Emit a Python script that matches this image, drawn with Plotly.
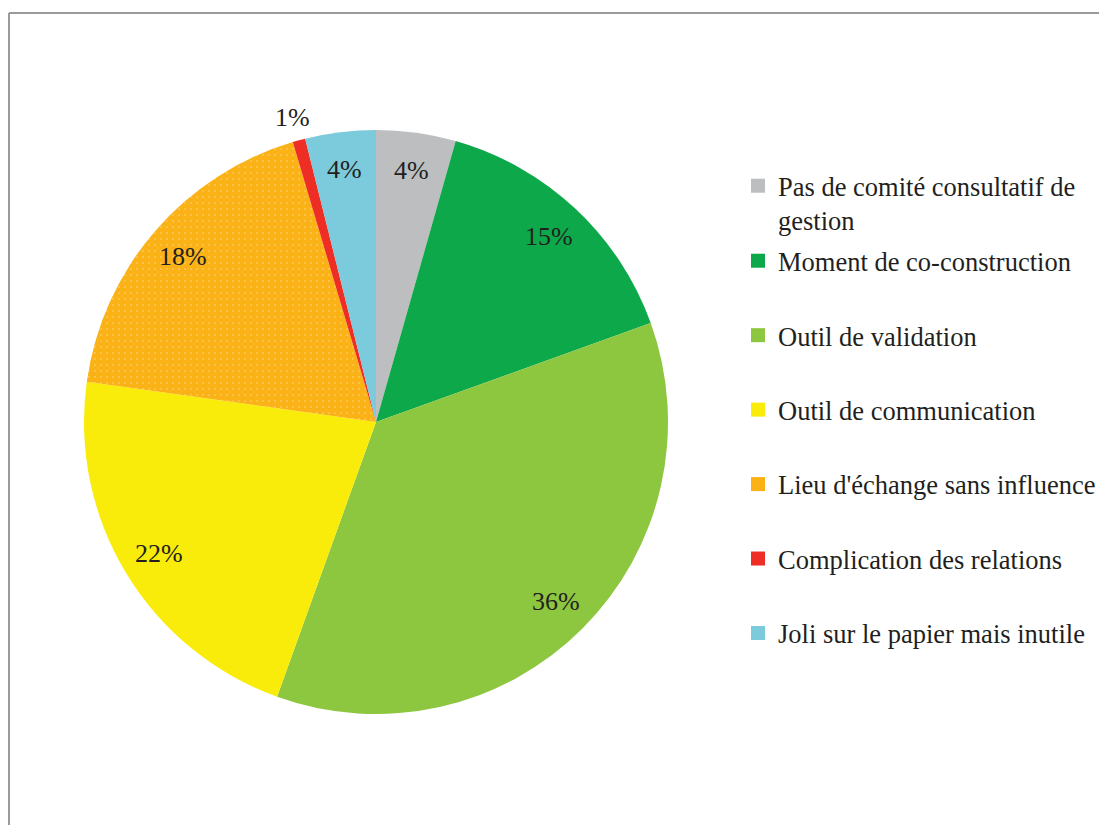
import math
import plotly.graph_objects as go

# ---- data ----
categories = [
    "Pas de comité consultatif de<br>gestion",
    "Moment de co-construction",
    "Outil de validation",
    "Outil de communication",
    "Lieu d'échange sans influence",
    "Complication des relations",
    "Joli sur le papier mais inutile",
]
values = [4.4, 15.1, 36.0, 21.7, 18.2, 0.7, 3.9]
colors = ["#BCBEC0", "#0DA84A", "#8DC63F", "#F9EC0A", "#FBB217", "#EE2E24", "#7BCBDC"]
patterns = ["", "", "", "", ".", "", ""]

# ---- layout constants ----
W, H = 1107, 825
OFF = 8                               # page body margin
CX, CY, R = 376 - OFF, 422 - OFF, 292  # pie centre / radius in figure pixels
label_r_inside = 0.87
label_r_outside = 1.08
small_slice = 1.5                     # slices below this % get the label outside
FONT = "Liberation Serif"
TXT = "#231F20"

fig = go.Figure()

fig.add_trace(go.Pie(
    labels=categories,
    values=values,
    sort=False,
    direction="clockwise",
    rotation=0,
    textinfo="none",
    hoverinfo="label+percent",
    showlegend=False,
    marker=dict(colors=colors, line=dict(width=0),
                pattern=dict(shape=patterns, fgcolor="white", bgcolor=colors,
                             fgopacity=0.45, size=6, solidity=0.06,
                             fillmode="replace")),
    domain=dict(x=[(CX - R) / W, (CX + R) / W],
                y=[(H - CY - R) / H, (H - CY + R) / H]),
))

# percent labels placed at slice mid-angles
total = sum(values)
cum = 0.0
for v in values:
    mid = (cum + v / 2) / total * 2 * math.pi
    cum += v
    rf = label_r_outside if v / total * 100 < small_slice else label_r_inside
    px = CX + rf * R * math.sin(mid)
    py = CY - rf * R * math.cos(mid)
    fig.add_annotation(x=px / W, y=1 - py / H, xref="paper", yref="paper",
                       text=f"{round(v / total * 100)}%", showarrow=False,
                       font=dict(family=FONT, size=26, color=TXT),
                       xanchor="center", yanchor="middle")

# legend entries (dummy square markers)
for i, (cat, col) in enumerate(zip(categories, colors)):
    fig.add_trace(go.Scatter(
        x=[None], y=[None], mode="markers", name=cat,
        marker=dict(symbol="square", size=14, color=col),
        legend="legend" if i == 0 else "legend2",
        legendgroup=f"g{i}", showlegend=True, hoverinfo="skip",
    ))

legend_common = dict(
    font=dict(family=FONT, size=26.5, color=TXT),
    bgcolor="rgba(0,0,0,0)", xanchor="left", yanchor="top",
    itemclick=False, itemdoubleclick=False, valign="top",
)
fig.update_layout(
    width=W, height=H,
    margin=dict(l=0, r=0, t=0, b=0),
    paper_bgcolor="white", plot_bgcolor="white",
    xaxis=dict(visible=False), yaxis=dict(visible=False),
    legend=dict(x=730 / W, y=1 - 154 / H, **legend_common),
    legend2=dict(x=730 / W, y=1 - 229 / H, traceorder="grouped",
                 tracegroupgap=37, **legend_common),
    shapes=[
        dict(type="line", xref="paper", yref="paper",
             x0=(9 - OFF) / W, x1=(9 - OFF) / W, y0=0, y1=1 - (13 - OFF) / H,
             line=dict(color="#9A9A9A", width=2)),
        dict(type="line", xref="paper", yref="paper",
             x0=(9 - OFF) / W, x1=1, y0=1 - (13 - OFF) / H, y1=1 - (13 - OFF) / H,
             line=dict(color="#9A9A9A", width=2)),
    ],
)

fig.write_html("out.html")
